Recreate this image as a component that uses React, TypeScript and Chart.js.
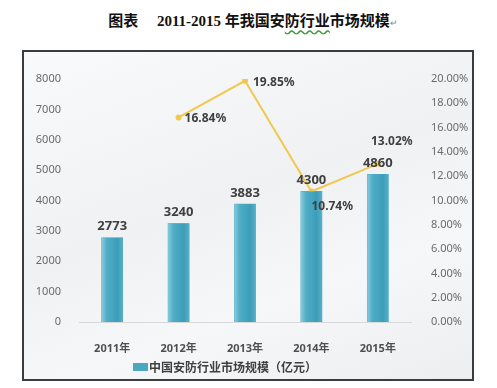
import React, { useEffect, useRef } from "react";
import { Chart, registerables } from "chart.js";

Chart.register(...registerables);

const categories = ["2011年", "2012年", "2013年", "2014年", "2015年"];
const marketSize = [2773, 3240, 3883, 4300, 4860];
const growthRate: (number | null)[] = [null, 16.84, 19.85, 10.74, 13.02];
const barLabel = "中国安防行业市场规模（亿元）";
const lineLabel = "增长率";

const BAR_COLOR = "#4aa8c2";
const LINE_COLOR = "#f1c84e";
const TEXT_DARK = "#404040";
const TICK_GRAY = "#6b6b6b";

const labelPlugin = {
  id: "customLabels",
  afterDatasetsDraw(chart: any) {
    const ctx = chart.ctx;
    ctx.save();
    const barMeta = chart.getDatasetMeta(0);
    barMeta.data.forEach((el: any, i: number) => {
      const { x, y, base, width } = el.getProps(["x", "y", "base", "width"], true);
      const g = ctx.createLinearGradient(x - width / 2, 0, x + width / 2, 0);
      g.addColorStop(0, "#86cbdc");
      g.addColorStop(0.25, "#4fadc6");
      g.addColorStop(0.75, "#3d9db8");
      g.addColorStop(1, "#56b0c7");
      ctx.fillStyle = g;
      ctx.fillRect(x - width / 2, y, width, base - y);
      ctx.fillStyle = TEXT_DARK;
      ctx.font = "bold 13px 'Noto Sans', 'Noto Sans CJK SC', sans-serif";
      ctx.textAlign = "center";
      ctx.textBaseline = "middle";
      ctx.fillText(String(marketSize[i]), x, y - 11);
    });
    const lineMeta = chart.getDatasetMeta(1);
    const offsets: Record<number, [number, number, string]> = {
      1: [6, 1, "left"],
      2: [8, 2, "left"],
      3: [0, 15, "left"],
      4: [14, -22, "center"],
    };
    ctx.font = "bold 12px 'Noto Sans', 'Noto Sans CJK SC', sans-serif";
    ctx.fillStyle = TEXT_DARK;
    ctx.textBaseline = "middle";
    lineMeta.data.forEach((el: any, i: number) => {
      const v = growthRate[i];
      if (v == null) return;
      const o = offsets[i] || [6, 0, "left"];
      ctx.textAlign = o[2];
      ctx.fillText(v.toFixed(2) + "%", el.x + o[0], el.y + o[1]);
    });
    const area = chart.chartArea;
    const lx = area.left + 54;
    const ly = chart.height - 12;
    ctx.fillStyle = BAR_COLOR;
    ctx.fillRect(lx, ly - 4, 15, 8);
    ctx.fillStyle = TEXT_DARK;
    ctx.textAlign = "left";
    ctx.font = "bold 12px 'Noto Sans CJK SC', sans-serif";
    ctx.fillText(barLabel, lx + 16, ly);
    ctx.restore();
  },
};

function ChartCanvas() {
  const ref = useRef<HTMLCanvasElement | null>(null);
  useEffect(() => {
    if (!ref.current) return;
    const chart = new Chart(ref.current, {
      data: {
        labels: categories,
        datasets: [
          {
            type: "bar",
            label: barLabel,
            data: marketSize,
            backgroundColor: BAR_COLOR,
            barThickness: 21,
            yAxisID: "y",
            order: 2,
          },
          {
            type: "line",
            label: lineLabel,
            data: growthRate,
            borderColor: LINE_COLOR,
            backgroundColor: LINE_COLOR,
            borderWidth: 2,
            pointRadius: 2,
            pointHoverRadius: 2,
            tension: 0,
            spanGaps: false,
            yAxisID: "y1",
            order: 1,
          },
        ],
      } as any,
      options: {
        animation: false,
        responsive: false,
        maintainAspectRatio: false,
        layout: { padding: { top: 27, left: 0, right: 0, bottom: 0 } },
        plugins: {
          legend: { display: false },
          tooltip: { enabled: false },
          title: { display: false },
        },
        scales: {
          x: {
            grid: { display: false },
            border: { display: true, color: "#d9d9d9" },
            ticks: {
              color: "#505050",
              padding: 12,
              font: { size: 11, weight: "bold", family: "'Noto Sans', 'Noto Sans CJK SC', sans-serif" },
            },
            afterFit: (s: any) => {
              s.height = 57;
            },
          },
          y: {
            position: "left",
            min: 0,
            max: 8000,
            grid: { display: false },
            border: { display: false },
            ticks: {
              stepSize: 1000,
              color: TICK_GRAY,
              padding: 10,
              font: { size: 11, family: "'Noto Sans', sans-serif" },
              callback: (v: any) => String(v),
            },
            afterFit: (s: any) => {
              s.width = 55;
            },
          },
          y1: {
            position: "right",
            min: 0,
            max: 20,
            grid: { display: false },
            border: { display: false },
            ticks: {
              stepSize: 2,
              color: TICK_GRAY,
              padding: 12,
              font: { size: 11, family: "'Noto Sans', sans-serif" },
              callback: (v: any) => Number(v).toFixed(2) + "%",
            },
            afterFit: (s: any) => {
              s.width = 61;
            },
          },
        },
      } as any,
      plugins: [labelPlugin],
    });
    return () => chart.destroy();
  }, []);
  return <canvas ref={ref} width={448} height={327} style={{ width: 448, height: 327, display: "block" }} />;
}

export default function App() {
  return (
    <div
      style={{
        position: "absolute",
        left: 0,
        top: 0,
        width: 497,
        height: 388,
        background: "#ffffff",
        overflow: "hidden",
      }}
    >
      <div
        style={{
          position: "absolute",
          left: 0,
          top: 9,
          width: 506,
          textAlign: "center",
          fontFamily: "'Liberation Serif', 'Noto Sans CJK SC', serif",
          fontWeight: "bold",
          fontSize: 15,
          color: "#111",
          whiteSpace: "nowrap",
        }}
      >
        图表　 2011-2015 年我国安
        <span style={{ textDecoration: "underline wavy #3a9a3a", textUnderlineOffset: 3 }}>防行业</span>
        市场规模<span style={{ fontSize: 9, fontWeight: "normal", color: "#888" }}>↵</span>
      </div>
      <div
        style={{
          position: "absolute",
          left: 22,
          top: 50,
          width: 452,
          height: 331,
          boxSizing: "border-box",
          border: "2px solid #3c3c3c",
          background: "linear-gradient(160deg, #f9fafb 0%, #eff1f3 45%, #f6f7f9 70%, #eceef0 100%)",
        }}
      >
        <ChartCanvas />
      </div>
    </div>
  );
}
